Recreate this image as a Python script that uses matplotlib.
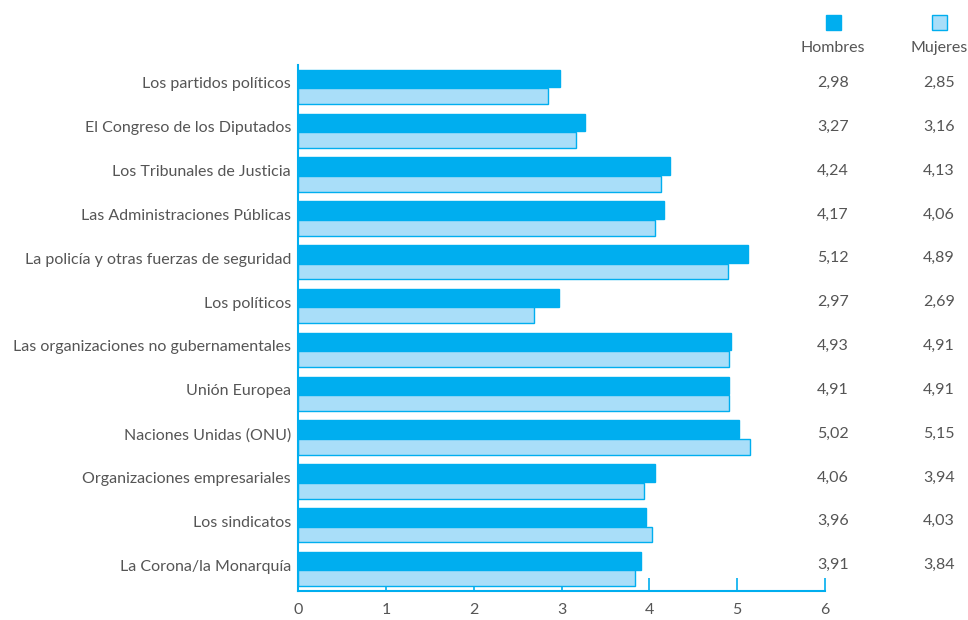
import matplotlib

matplotlib.use("Agg")
import matplotlib.pyplot as plt
from matplotlib.patches import Rectangle
from matplotlib.transforms import blended_transform_factory

categories = [
    "Los partidos políticos",
    "El Congreso de los Diputados",
    "Los Tribunales de Justicia",
    "Las Administraciones Públicas",
    "La policía y otras fuerzas de seguridad",
    "Los políticos",
    "Las organizaciones no gubernamentales",
    "Unión Europea",
    "Naciones Unidas (ONU)",
    "Organizaciones empresariales",
    "Los sindicatos",
    "La Corona/la Monarquía",
]
hombres = [2.98, 3.27, 4.24, 4.17, 5.12, 2.97, 4.93, 4.91, 5.02, 4.06, 3.96, 3.91]
mujeres = [2.85, 3.16, 4.13, 4.06, 4.89, 2.69, 4.91, 4.91, 5.15, 3.94, 4.03, 3.84]
series_names = ["Hombres", "Mujeres"]

BLUE = "#00aeef"
LIGHT = "#a9def9"
GREY = "#555555"
plt.rcParams["font.family"] = ["Lato", "DejaVu Sans"]
FS = 11.5

W, H = 968, 620
fig = plt.figure(figsize=(W / 100, H / 100), dpi=100)
ax = fig.add_axes([298 / W, 29 / H, 527 / W, 526 / H])

pos = list(range(len(categories)))
ax.barh([p - 0.2 for p in pos], hombres, height=0.4, color=BLUE,
        edgecolor=BLUE, linewidth=1, zorder=3)
ax.barh([p + 0.2 for p in pos], mujeres, height=0.36, color=LIGHT,
        edgecolor=BLUE, linewidth=1, zorder=3)

ax.set_ylim(11.49, -0.51)
ax.set_xlim(0, 6)
ax.set_yticks([p - 0.1 for p in pos])
ax.set_yticklabels(categories, fontsize=FS, color=GREY)
ax.tick_params(axis="y", length=0, pad=5)
ax.set_xticks(range(7))
ax.tick_params(axis="x", direction="in", length=9.5, width=1.2, color=BLUE,
               labelsize=FS, labelcolor=GREY, pad=9)
for s in ("top", "right"):
    ax.spines[s].set_visible(False)
for s in ("left", "bottom"):
    ax.spines[s].set_color(BLUE)
    ax.spines[s].set_linewidth(1.5)
    ax.spines[s].set_zorder(4)

# value columns on the right
tr = blended_transform_factory(fig.transFigure, ax.transData)
for p, h, m in zip(pos, hombres, mujeres):
    ax.text(833 / W, p - 0.1, f"{h:.2f}".replace(".", ","), transform=tr,
            ha="center", va="center", fontsize=FS, color=GREY)
    ax.text(939 / W, p - 0.1, f"{m:.2f}".replace(".", ","), transform=tr,
            ha="center", va="center", fontsize=FS, color=GREY)

# legend header
for x, name, fc in [(833, series_names[0], BLUE), (939, series_names[1], LIGHT)]:
    fig.add_artist(Rectangle(((x - 7.5) / W, (H - 30) / H), 15 / W, 15 / H,
                             transform=fig.transFigure, facecolor=fc,
                             edgecolor=BLUE, linewidth=1))
    fig.text(x / W, (H - 48) / H, name, ha="center", va="center",
             fontsize=FS, color=GREY)

fig.savefig("out.png", dpi=100)
